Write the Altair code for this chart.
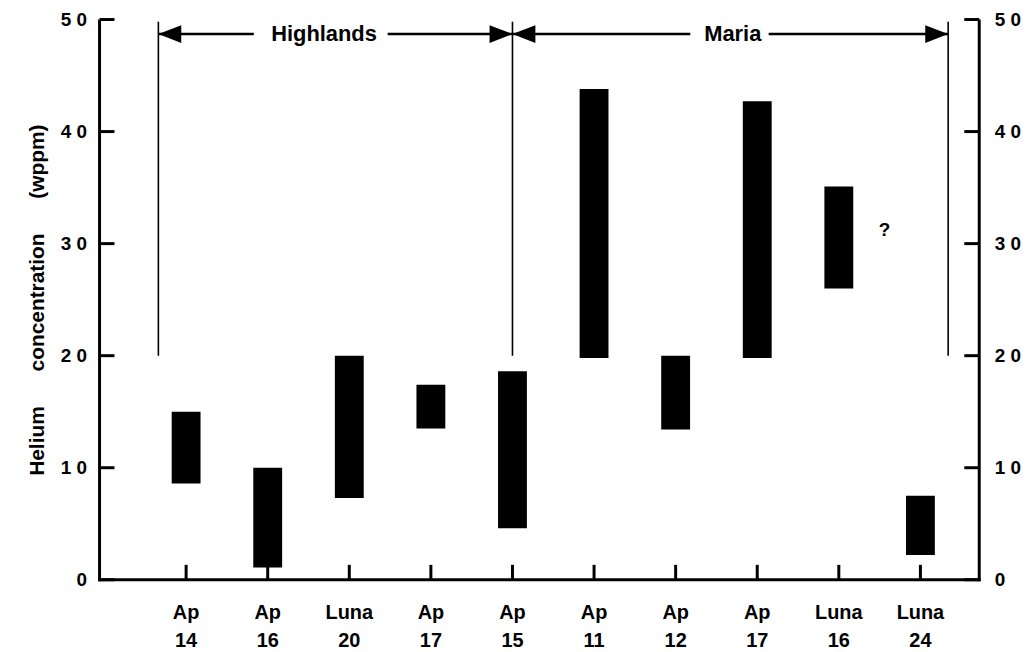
import altair as alt
import pandas as pd

# ---- data ----
sites = ["Ap\n14", "Ap\n16", "Luna\n20", "Ap\n17", "Ap\n15",
         "Ap\n11", "Ap\n12", "Ap\n17", "Luna\n16", "Luna\n24"]
positions = [1, 2, 3, 4, 5, 6, 7, 8, 9, 10]
he_low = [8.6, 1.1, 7.3, 13.5, 4.6, 19.8, 13.4, 19.8, 26.0, 2.2]
he_high = [15.0, 10.0, 20.0, 17.4, 18.6, 43.8, 20.0, 42.7, 35.1, 7.5]

y_ticks = [0, 10, 20, 30, 40, 50]

# region separators and arrow annotation (data units)
sep_x = [0.66, 5.0, 10.34]
sep_y_low = 20.0
sep_y_high = 49.8
arrow_y = 48.7
seg_start = [0.66, 3.47, 5.0, 8.14]
seg_end = [1.83, 5.0, 7.18, 10.34]
region_names = ["Highlands", "Maria"]
region_centers = [2.69, 7.70]
head_left_x = [0.66, 5.0]     # arrowheads pointing left (tip x)
head_right_x = [5.0, 10.34]   # arrowheads pointing right (tip x)
query_x, query_y = 9.56, 31.2

W, H = 884, 563
FONT = "Liberation Sans"
NB = "\u00a0" * 6
TITLE = "Helium" + NB + "concentration" + NB + "(wppm)"
FRAME_COLOR = "black"

xs = alt.Scale(domain=[0, 10.66], nice=False, zero=False)
ys = alt.Scale(domain=[0, 50], nice=False, zero=False)

bars_df = pd.DataFrame({"pos": positions, "lo": he_low, "hi": he_high, "site": sites})
ticks_df = pd.DataFrame({"v": y_ticks})
sep_df = pd.DataFrame({"x": sep_x, "y1": [sep_y_low] * 3, "y2": [sep_y_high] * 3})
seg_df = pd.DataFrame({"x1": seg_start, "x2": seg_end, "y": [arrow_y] * 4})
names_df = pd.DataFrame({"x": region_centers, "y": [arrow_y] * 2, "t": region_names})
hl_df = pd.DataFrame({"x": head_left_x, "y": [arrow_y] * 2})
hr_df = pd.DataFrame({"x": head_right_x, "y": [arrow_y] * 2})
q_df = pd.DataFrame({"x": [query_x], "y": [query_y], "t": ["?"]})
frame_df = pd.DataFrame({"side": ["left", "right", "bottom"]})

label_expr = "datum.value == 0 ? '0' : format(datum.value / 10, 'd') + ' 0'"

left_axis = alt.Axis(
    orient="left", values=y_ticks, labelExpr=label_expr, ticks=False, grid=False,
    domain=False,
    labelFont=FONT, labelFontWeight="bold", labelFontSize=19, labelColor="black",
    labelPadding=13,
    title=TITLE, titleFont=FONT, titleFontWeight="bold",
    titleFontSize=21, titleColor="black", titlePadding=13,
)
right_axis = alt.Axis(
    orient="right", values=y_ticks, labelExpr=label_expr, ticks=False, grid=False,
    domain=False,
    labelFont=FONT, labelFontWeight="bold", labelFontSize=19, labelColor="black",
    labelPadding=15, title=None,
)

bars = alt.Chart(bars_df).mark_bar(color="black", size=29).encode(
    x=alt.X("pos:Q", scale=xs, axis=None),
    y=alt.Y("lo:Q", scale=ys, axis=left_axis),
    y2="hi:Q",
)

# axis lines (left, right, bottom) as thin filled rects
frame_left = alt.Chart(frame_df).transform_filter("datum.side == 'left'").mark_rect(
    color=FRAME_COLOR).encode(
    x=alt.value(-1.5), x2=alt.value(1.5), y=alt.value(0), y2=alt.value(H + 1.5))
frame_right = alt.Chart(frame_df).transform_filter("datum.side == 'right'").mark_rect(
    color=FRAME_COLOR).encode(
    x=alt.value(W - 1.5), x2=alt.value(W + 1.5), y=alt.value(0), y2=alt.value(H + 1.5))
frame_bottom = alt.Chart(frame_df).transform_filter("datum.side == 'bottom'").mark_rect(
    color=FRAME_COLOR).encode(
    x=alt.value(-1.5), x2=alt.value(W + 1.5), y=alt.value(H - 1.5), y2=alt.value(H + 1.5))

left_ticks = alt.Chart(ticks_df).mark_rule(color="black", strokeWidth=3).encode(
    y=alt.Y("v:Q", scale=ys, axis=None),
    x=alt.value(0), x2=alt.value(15),
)
right_ticks = alt.Chart(ticks_df).mark_rule(color="black", strokeWidth=3).encode(
    y=alt.Y("v:Q", scale=ys, axis=right_axis),
    x=alt.value(W - 15), x2=alt.value(W),
)
bottom_ticks = alt.Chart(bars_df).mark_rule(color="black", strokeWidth=3).encode(
    x=alt.X("pos:Q", scale=xs, axis=None),
    y=alt.value(H - 15), y2=alt.value(H),
)

x_labels = alt.Chart(bars_df).mark_text(
    font=FONT, fontWeight="bold", fontSize=20, color="black",
    baseline="top", align="center", lineBreak="\n", lineHeight=28.5,
).encode(
    x=alt.X("pos:Q", scale=xs, axis=None),
    y=alt.value(H + 23),
    text="site:N",
)

seps = alt.Chart(sep_df).mark_rule(color="black", strokeWidth=1.6).encode(
    x=alt.X("x:Q", scale=xs, axis=None),
    y=alt.Y("y1:Q", scale=ys, axis=None),
    y2="y2:Q",
)
segs = alt.Chart(seg_df).mark_rule(color="black", strokeWidth=2.5).encode(
    x=alt.X("x1:Q", scale=xs, axis=None), x2="x2:Q",
    y=alt.Y("y:Q", scale=ys, axis=None),
)
heads_l = alt.Chart(hl_df).mark_point(
    shape="M0,0L2,-0.78L2,0.78Z", size=529, filled=True, opacity=1,
    color="black", strokeWidth=0,
).encode(x=alt.X("x:Q", scale=xs, axis=None), y=alt.Y("y:Q", scale=ys, axis=None))
heads_r = alt.Chart(hr_df).mark_point(
    shape="M0,0L-2,-0.78L-2,0.78Z", size=529, filled=True, opacity=1,
    color="black", strokeWidth=0,
).encode(x=alt.X("x:Q", scale=xs, axis=None), y=alt.Y("y:Q", scale=ys, axis=None))

names = alt.Chart(names_df).mark_text(
    font=FONT, fontWeight="bold", fontSize=22, color="black", baseline="middle",
).encode(x=alt.X("x:Q", scale=xs, axis=None), y=alt.Y("y:Q", scale=ys, axis=None), text="t:N")

query = alt.Chart(q_df).mark_text(
    font=FONT, fontWeight="bold", fontSize=19, color="black", baseline="middle",
).encode(x=alt.X("x:Q", scale=xs, axis=None), y=alt.Y("y:Q", scale=ys, axis=None), text="t:N")

chart = alt.layer(
    bars, frame_left, frame_right, frame_bottom,
    left_ticks, right_ticks, bottom_ticks, x_labels,
    seps, segs, heads_l, heads_r, names, query,
).resolve_axis(y="independent").properties(
    width=W, height=H,
    autosize=alt.AutoSizeParams(type="none"),
    padding={"left": 92, "top": 10, "right": 48, "bottom": 70},
    background="white",
).configure_view(stroke=None)

chart.save("out.html", embed_options={"renderer": "svg", "actions": False})
